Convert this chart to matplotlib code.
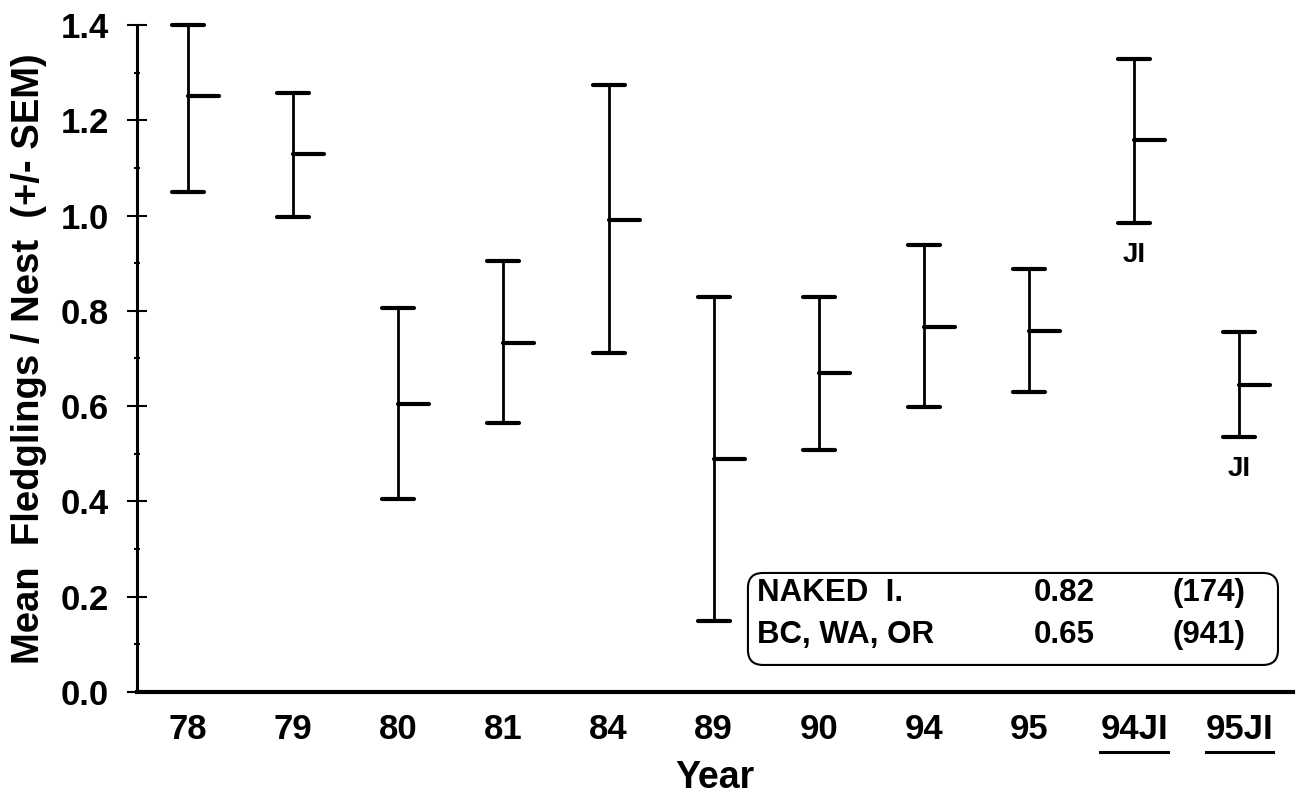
import matplotlib
matplotlib.use("Agg")
import matplotlib.pyplot as plt
from matplotlib.patches import FancyBboxPatch
from matplotlib.lines import Line2D
from matplotlib.ticker import MultipleLocator

plt.rcParams['font.family'] = ['Liberation Sans', 'DejaVu Sans']
plt.rcParams['font.weight'] = 'bold'

years = ['78', '79', '80', '81', '84', '89', '90', '94', '95', '94JI', '95JI']
means = [1.25, 1.13, 0.605, 0.732, 0.99, 0.49, 0.67, 0.767, 0.758, 1.158, 0.645]
upper = [1.40, 1.258, 0.806, 0.904, 1.275, 0.83, 0.829, 0.939, 0.888, 1.329, 0.755]
lower = [1.049, 0.996, 0.405, 0.564, 0.712, 0.149, 0.508, 0.599, 0.629, 0.985, 0.535]
underlined = ['94JI', '95JI']
ji_marked = ['94JI', '95JI']

box_rows = [('NAKED  I.', '0.82', '(174)'),
            ('BC, WA, OR', '0.65', '(941)')]

fig = plt.figure(figsize=(13.02, 7.95), dpi=100)
ax = fig.add_axes([0.1052, 0.1296, 0.8879, 0.839])

x = list(range(len(years)))
cap = 0.152
tick = 0.295
ax.vlines(x, lower, upper, color='black', lw=2.0, clip_on=False)
ax.hlines(upper, [i - cap for i in x], [i + cap for i in x], color='black',
          lw=3.0, capstyle='round', clip_on=False)
ax.hlines(lower, [i - cap for i in x], [i + cap for i in x], color='black',
          lw=3.0, capstyle='round', clip_on=False)
ax.hlines(means, x, [i + tick for i in x], color='black', lw=3.0,
          capstyle='round', clip_on=False)

# JI labels under the Jervis Island bars
for i, name in enumerate(years):
    if name in ji_marked:
        ax.annotate('JI', (i, lower[i]), xytext=(0, -23), textcoords='offset points',
                    ha='center', va='center', fontsize=20, fontweight='bold')

ax.set_xlim(-0.485, 10.51)
ax.set_ylim(0, 1.4)
ax.set_xticks(x)
ax.set_xticklabels(years)
ax.yaxis.set_major_locator(MultipleLocator(0.2))
ax.yaxis.set_minor_locator(MultipleLocator(0.1))
ax.set_yticklabels(['%.1f' % v for v in ax.get_yticks()])
ax.tick_params(axis='y', which='major', direction='inout', length=14.5, width=1.5,
               labelsize=25, pad=13)
ax.tick_params(axis='y', which='minor', direction='inout', length=5, width=1.5)
ax.tick_params(axis='x', length=0, labelsize=25, pad=15)

for side in ['top', 'right']:
    ax.spines[side].set_visible(False)
ax.spines['left'].set_linewidth(2.2)
ax.spines['bottom'].set_linewidth(3.0)

ax.set_ylabel('Mean  Fledglings / Nest  (+/- SEM)', fontsize=27.5, fontweight='bold',
              labelpad=10)
ax.set_xlabel('Year', fontsize=27, fontweight='bold', labelpad=10)

# summary box
box = FancyBboxPatch((0.5285, 0.0405), 0.4585, 0.1379,
                     boxstyle='round,pad=0,rounding_size=0.013',
                     mutation_aspect=1156 / 667, transform=ax.transAxes,
                     facecolor='white', edgecolor='black', lw=1.5, clip_on=False)
ax.add_patch(box)
row_y = [0.148, 0.0855]
for (name, val, n), yy in zip(box_rows, row_y):
    ax.text(0.536, yy, name, transform=ax.transAxes, ha='left', va='center',
            fontsize=22.5, fontweight='bold')
    ax.text(0.776, yy, val, transform=ax.transAxes, ha='left', va='center',
            fontsize=22.5, fontweight='bold')
    ax.text(0.896, yy, n, transform=ax.transAxes, ha='left', va='center',
            fontsize=22.5, fontweight='bold')

# underline selected tick labels
fig.canvas.draw()
renderer = fig.canvas.get_renderer()
for lab in ax.get_xticklabels():
    if lab.get_text() in underlined:
        bb = lab.get_window_extent(renderer)
        yline = bb.y0 - 6
        fig.add_artist(Line2D([bb.x0 / fig.bbox.width, bb.x1 / fig.bbox.width],
                              [yline / fig.bbox.height, yline / fig.bbox.height],
                              color='black', lw=2.2))

fig.savefig('out.png', dpi=100)
